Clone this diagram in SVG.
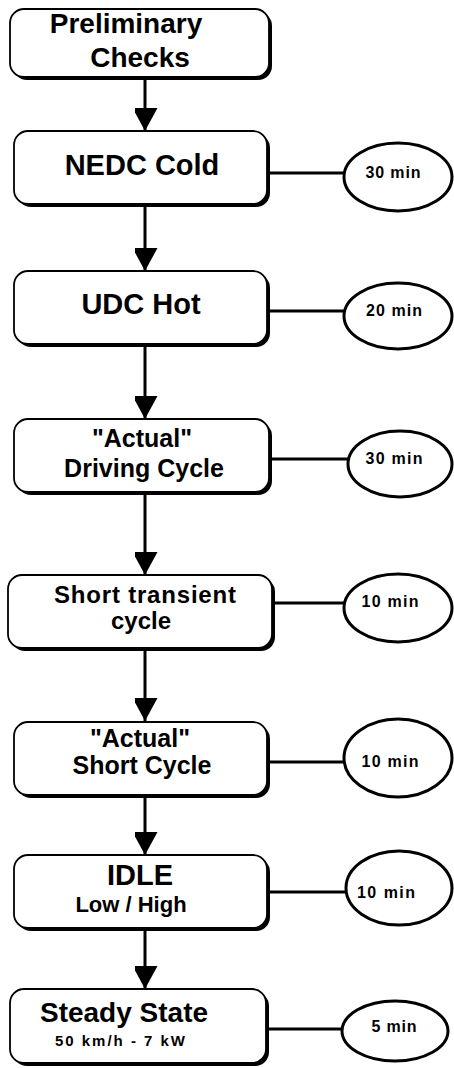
<svg xmlns="http://www.w3.org/2000/svg" width="454" height="1068" viewBox="0 0 454 1068">
<defs>
<style>
.shadow{fill:#000}
.box{fill:#fff;stroke:#000;stroke-width:1.8}
.ell{fill:#fff;stroke:#000;stroke-width:3}
.conn{stroke:#000;stroke-width:3;fill:none}
.lbl{font-family:"Liberation Sans",Arial,sans-serif;font-weight:bold;fill:#000;text-anchor:middle}
.t{font-family:"Liberation Sans",Arial,sans-serif;font-weight:bold;fill:#000;font-size:16px;text-anchor:middle}
</style>
<marker id="ah" markerWidth="25" markerHeight="23" refX="23" refY="12.5" orient="auto" markerUnits="userSpaceOnUse">
<path d="M0,0 L23,12.5 L0,25 Z" fill="#000"/>
</marker>
</defs>
<rect width="454" height="1068" fill="#fff"/>
<g id="connectors">
<line class="conn" x1="145" y1="80" x2="145" y2="131" marker-end="url(#ah)"/>
<line class="conn" x1="145" y1="207" x2="145" y2="271" marker-end="url(#ah)"/>
<line class="conn" x1="145" y1="347" x2="145" y2="419" marker-end="url(#ah)"/>
<line class="conn" x1="145" y1="495" x2="145" y2="575" marker-end="url(#ah)"/>
<line class="conn" x1="145" y1="651" x2="145" y2="721" marker-end="url(#ah)"/>
<line class="conn" x1="145" y1="798" x2="145" y2="855" marker-end="url(#ah)"/>
<line class="conn" x1="145" y1="931" x2="145" y2="989" marker-end="url(#ah)"/>
<line class="conn" x1="265" y1="173" x2="344" y2="173"/>
<line class="conn" x1="265" y1="311" x2="344" y2="311"/>
<line class="conn" x1="268" y1="459" x2="349" y2="459"/>
<line class="conn" x1="270" y1="603" x2="344" y2="603"/>
<line class="conn" x1="265" y1="762" x2="344" y2="762"/>
<line class="conn" x1="265" y1="892" x2="346" y2="892"/>
<line class="conn" x1="263" y1="1029" x2="343" y2="1029"/>
</g>
<g id="n1">
<rect class="shadow" x="13" y="12" width="259" height="68" rx="14"/>
<rect class="box" x="10" y="9" width="259" height="68" rx="14"/>
<text class="lbl" x="126" y="33" font-size="28">Preliminary</text>
<text class="lbl" x="140" y="67" font-size="28">Checks</text>
</g>
<g id="n2">
<rect class="shadow" x="17" y="134" width="253" height="73" rx="14"/>
<rect class="box" x="14" y="131" width="253" height="73" rx="14"/>
<text class="lbl" x="142" y="175" font-size="29">NEDC Cold</text>
</g>
<g id="e2">
<ellipse class="ell" cx="398" cy="177" rx="54" ry="34"/>
<text class="t" x="393" y="178" textLength="55" lengthAdjust="spacing">30 min</text>
</g>
<g id="n3">
<rect class="shadow" x="17" y="274" width="253" height="73" rx="14"/>
<rect class="box" x="14" y="271" width="253" height="73" rx="14"/>
<text class="lbl" x="141" y="314" font-size="29">UDC Hot</text>
</g>
<g id="e3">
<ellipse class="ell" cx="398" cy="316" rx="54" ry="33"/>
<text class="t" x="394" y="316" textLength="56" lengthAdjust="spacing">20 min</text>
</g>
<g id="n4">
<rect class="shadow" x="17" y="422" width="255" height="73" rx="14"/>
<rect class="box" x="14" y="419" width="255" height="73" rx="14"/>
<text class="lbl" x="142" y="447" font-size="25">"Actual"</text>
<text class="lbl" x="144" y="477" font-size="25">Driving Cycle</text>
</g>
<g id="e4">
<ellipse class="ell" cx="400" cy="464" rx="52" ry="33"/>
<text class="t" x="394" y="464" textLength="57" lengthAdjust="spacing">30 min</text>
</g>
<g id="n5">
<rect class="shadow" x="11" y="578" width="264" height="73" rx="14"/>
<rect class="box" x="8" y="575" width="264" height="73" rx="14"/>
<text class="lbl" x="145" y="603" font-size="24" textLength="182" lengthAdjust="spacing">Short transient</text>
<text class="lbl" x="141" y="629" font-size="24">cycle</text>
</g>
<g id="e5">
<ellipse class="ell" cx="398" cy="608" rx="54" ry="34"/>
<text class="t" x="390" y="607" textLength="57" lengthAdjust="spacing">10 min</text>
</g>
<g id="n6">
<rect class="shadow" x="17" y="725" width="253" height="73" rx="14"/>
<rect class="box" x="14" y="722" width="253" height="73" rx="14"/>
<text class="lbl" x="140" y="747" font-size="25">"Actual"</text>
<text class="lbl" x="142" y="774" font-size="25">Short Cycle</text>
</g>
<g id="e6">
<ellipse class="ell" cx="398" cy="758" rx="54" ry="39"/>
<text class="t" x="390" y="767" textLength="57" lengthAdjust="spacing">10 min</text>
</g>
<g id="n7">
<rect class="shadow" x="17" y="858" width="253" height="73" rx="14"/>
<rect class="box" x="14" y="855" width="253" height="73" rx="14"/>
<text class="lbl" x="140" y="885" font-size="29">IDLE</text>
<text class="lbl" x="131" y="912" font-size="22">Low / High</text>
</g>
<g id="e7">
<ellipse class="ell" cx="399" cy="888" rx="53" ry="37"/>
<text class="t" x="386" y="898" textLength="58" lengthAdjust="spacing">10 min</text>
</g>
<g id="n8">
<rect class="shadow" x="13" y="992" width="256" height="74" rx="14"/>
<rect class="box" x="10" y="989" width="256" height="74" rx="14"/>
<text class="lbl" x="124" y="1022" font-size="28">Steady State</text>
<text class="lbl" x="120" y="1046" font-size="15" textLength="130" lengthAdjust="spacing">50 km/h  - 7 kW</text>
</g>
<g id="e8">
<ellipse class="ell" cx="395" cy="1031" rx="53" ry="30"/>
<text class="t" x="394" y="1032" textLength="45" lengthAdjust="spacing">5 min</text>
</g>
</svg>
